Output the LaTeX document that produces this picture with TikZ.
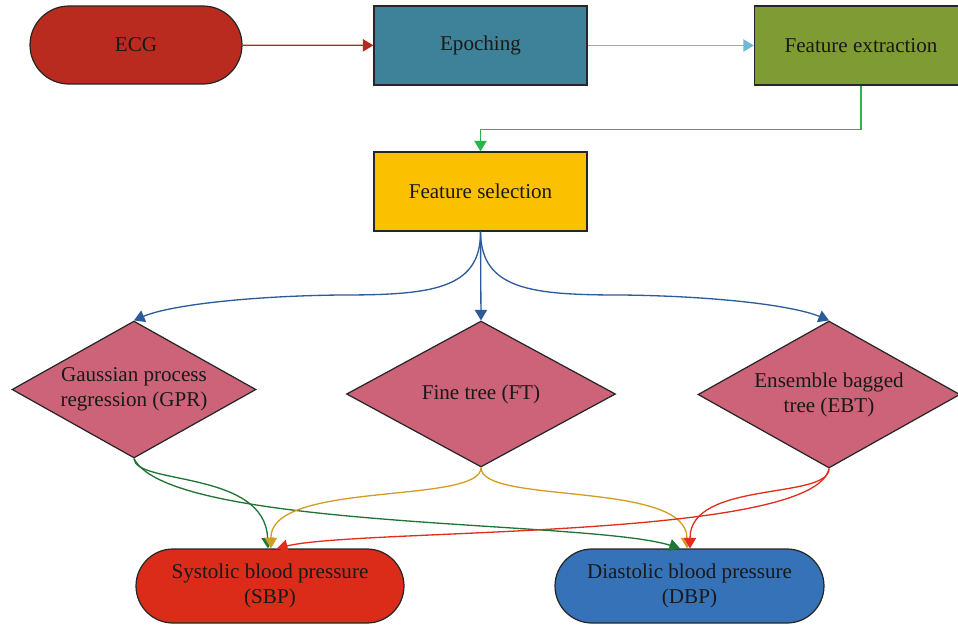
\documentclass[tikz,border=0pt]{standalone}
\usepackage{fontspec}
\setmainfont{Liberation Serif}
\usetikzlibrary{positioning, shapes.geometric, shapes.misc, arrows.meta}

\definecolor{ecgred}{HTML}{BA2B1F}
\definecolor{epochteal}{HTML}{3D8298}
\definecolor{featgreen}{HTML}{7E9B34}
\definecolor{selyellow}{HTML}{FBC100}
\definecolor{modelpink}{HTML}{CD6378}
\definecolor{sbpred}{HTML}{DA2C19}
\definecolor{dbpblue}{HTML}{3572B8}
\definecolor{ecgarrow}{HTML}{B32A20}
\definecolor{epocharrow}{HTML}{70B8D4}
\definecolor{selarrow}{HTML}{2BB54A}
\definecolor{modelarrow}{HTML}{2B5B99}
\definecolor{gprarrow}{HTML}{1F7535}
\definecolor{ftarrow}{HTML}{D49C22}
\definecolor{ebtarrow}{HTML}{E12D1B}

\tikzset{
    every node/.style={font=\fontsize{12}{14.2}\selectfont, text=black!90, align=center},
    stadium/.style={rounded rectangle, draw=black!85, line width=0.7pt, inner sep=0pt},
    procbox/.style={rectangle, draw=black!85, line width=0.7pt, minimum width=4.26cm, minimum height=1.58cm},
    decision/.style={diamond, aspect=1.8, draw=black!85, line width=0.7pt, fill=modelpink, inner sep=0pt},
    link/.style={line width=0.75pt, -{Triangle[length=6pt,width=7pt]}}
}

\begin{document}
\begin{tikzpicture}[x=0.02cm, y=-0.02cm]
        \useasboundingbox (0,0) rectangle (958,627);

        % pipeline
        \node[stadium, fill=ecgred, minimum width=4.24cm, minimum height=1.56cm] (ecg) at (136,45) {ECG};
        \node[procbox, fill=epochteal] (epoch) at (480.5,45.5) {Epoching};
        \node[procbox, fill=featgreen] (extract) at (861,45.5) {Feature extraction};
        \node[procbox, fill=selyellow] (select) at (480.5,191.5) {Feature selection};

        % models
        \node[decision, minimum width=4.88cm, minimum height=2.74cm] (gpr) at (134,389.5) {Gaussian process\\regression (GPR)};
        \node[decision, minimum width=5.38cm, minimum height=2.92cm] (ft) at (481,394) {Fine tree (FT)};
        \node[decision, minimum width=5.24cm, minimum height=2.94cm] (ebt) at (829,394.5) {Ensemble bagged\\tree (EBT)};

        % outputs
        \node[stadium, fill=sbpred, minimum width=5.36cm, minimum height=1.48cm] (sbp) at (270,586) {Systolic blood pressure\\(SBP)};
        \node[stadium, fill=dbpblue, minimum width=5.38cm, minimum height=1.48cm] (dbp) at (689.5,586) {Diastolic blood pressure\\(DBP)};

        % arrows
        \draw[link, ecgarrow] (ecg) -- (epoch);
        \draw[link, epocharrow] (epoch) -- (extract);
        \draw[link, selarrow] (extract.south) -- ++(0,44) -| (select.north);

        \draw[link, modelarrow] (select.south) .. controls (481,290) and (430,295) .. (340,295)
            .. controls (250,296) and (170,305) .. (gpr.north);
        \draw[link, modelarrow] (select.south) -- (ft.north);
        \draw[link, modelarrow] (select.south) .. controls (481,290) and (532,295) .. (622,295)
            .. controls (712,296) and (792,305) .. (ebt.north);

        \draw[link, gprarrow] (gpr.south) .. controls (135,485) and (265,470) .. ([xshift=-0.04cm]sbp.north);
        \draw[link, gprarrow] (gpr.south) .. controls (170,530) and (590,520) .. ([xshift=-0.19cm]dbp.north);
        \draw[link, ftarrow] (ft.south) .. controls (481,505) and (270,480) .. ([xshift=0.02cm]sbp.north);
        \draw[link, ftarrow] (ft.south) .. controls (481,505) and (687,480) .. ([xshift=-0.05cm]dbp.north);
        \draw[link, ebtarrow] (ebt.south) .. controls (815,540) and (360,528) .. ([xshift=0.14cm]sbp.north);
        \draw[link, ebtarrow] (ebt.south) .. controls (829,500) and (690,480) .. ([xshift=0.01cm]dbp.north);
    \end{tikzpicture}
\end{document}
